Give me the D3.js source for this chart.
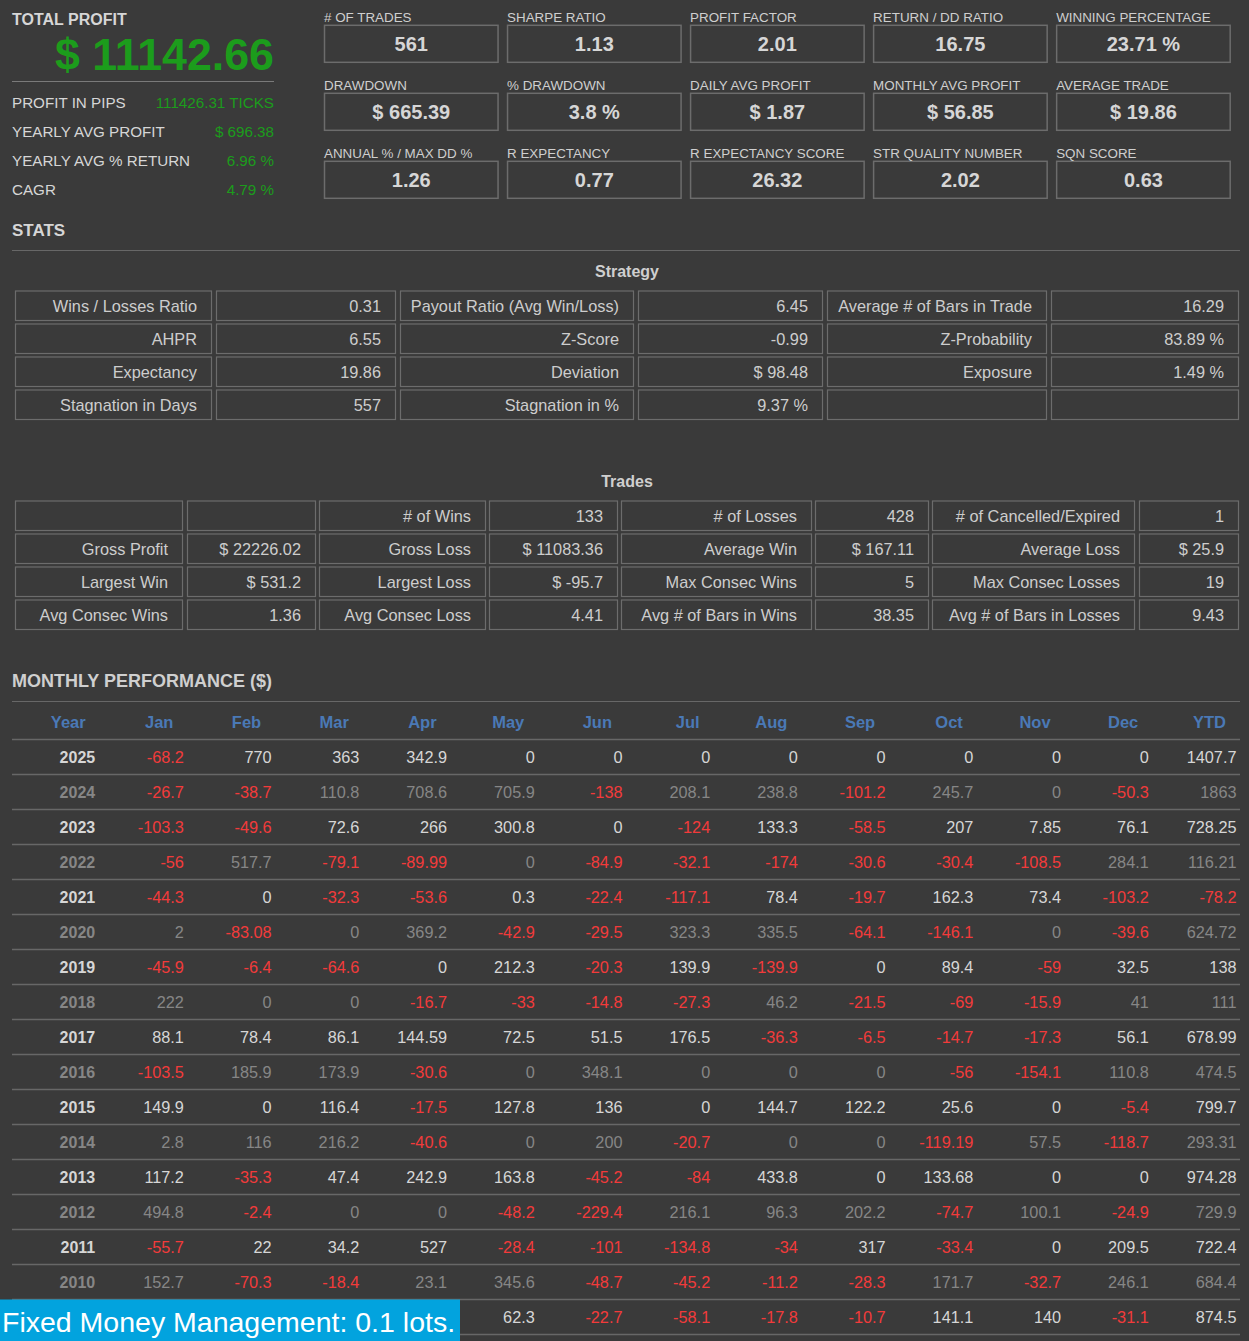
<!DOCTYPE html>
<html><head><meta charset="utf-8">
<script src="https://cdn.jsdelivr.net/npm/d3@7"></script>
<style>
html,body{margin:0;padding:0;background:#3a3a3a;overflow:hidden}
svg{display:block}
text{font-family:"Liberation Sans",Arial,sans-serif}
</style></head><body>
<svg id="c" width="1249" height="1341"></svg>
<script>
// ---------------- DATA ----------------
const totalProfitLabel = "TOTAL PROFIT";
const totalProfit = "$ 11142.66";
const summaryLabels = ["PROFIT IN PIPS", "YEARLY AVG PROFIT", "YEARLY AVG % RETURN", "CAGR"];
const summaryValues = ["111426.31 TICKS", "$ 696.38", "6.96 %", "4.79 %"];

const kpiLabels = ["# OF TRADES", "SHARPE RATIO", "PROFIT FACTOR", "RETURN / DD RATIO", "WINNING PERCENTAGE",
  "DRAWDOWN", "% DRAWDOWN", "DAILY AVG PROFIT", "MONTHLY AVG PROFIT", "AVERAGE TRADE",
  "ANNUAL % / MAX DD %", "R EXPECTANCY", "R EXPECTANCY SCORE", "STR QUALITY NUMBER", "SQN SCORE"];
const kpiValues = ["561", "1.13", "2.01", "16.75", "23.71 %",
  "$ 665.39", "3.8 %", "$ 1.87", "$ 56.85", "$ 19.86",
  "1.26", "0.77", "26.32", "2.02", "0.63"];

const strategyTitle = "Strategy";
const strategyCells = [
  ["Wins / Losses Ratio", "0.31", "Payout Ratio (Avg Win/Loss)", "6.45", "Average # of Bars in Trade", "16.29"],
  ["AHPR", "6.55", "Z-Score", "-0.99", "Z-Probability", "83.89 %"],
  ["Expectancy", "19.86", "Deviation", "$ 98.48", "Exposure", "1.49 %"],
  ["Stagnation in Days", "557", "Stagnation in %", "9.37 %", "", ""]
];

const tradesTitle = "Trades";
const tradeCells = [
  ["", "", "# of Wins", "133", "# of Losses", "428", "# of Cancelled/Expired", "1"],
  ["Gross Profit", "$ 22226.02", "Gross Loss", "$ 11083.36", "Average Win", "$ 167.11", "Average Loss", "$ 25.9"],
  ["Largest Win", "$ 531.2", "Largest Loss", "$ -95.7", "Max Consec Wins", "5", "Max Consec Losses", "19"],
  ["Avg Consec Wins", "1.36", "Avg Consec Loss", "4.41", "Avg # of Bars in Wins", "38.35", "Avg # of Bars in Losses", "9.43"]
];

const monthlyTitle = "MONTHLY PERFORMANCE ($)";
const monthHeaders = ["Year", "Jan", "Feb", "Mar", "Apr", "May", "Jun", "Jul", "Aug", "Sep", "Oct", "Nov", "Dec", "YTD"];
// last row's year and Jan–Apr are covered by the banner in the reference (unreadable -> null)
const years = [2025, 2024, 2023, 2022, 2021, 2020, 2019, 2018, 2017, 2016, 2015, 2014, 2013, 2012, 2011, 2010, null];
const monthly = [
  ["-68.2", "770", "363", "342.9", "0", "0", "0", "0", "0", "0", "0", "0", "1407.7"],
  ["-26.7", "-38.7", "110.8", "708.6", "705.9", "-138", "208.1", "238.8", "-101.2", "245.7", "0", "-50.3", "1863"],
  ["-103.3", "-49.6", "72.6", "266", "300.8", "0", "-124", "133.3", "-58.5", "207", "7.85", "76.1", "728.25"],
  ["-56", "517.7", "-79.1", "-89.99", "0", "-84.9", "-32.1", "-174", "-30.6", "-30.4", "-108.5", "284.1", "116.21"],
  ["-44.3", "0", "-32.3", "-53.6", "0.3", "-22.4", "-117.1", "78.4", "-19.7", "162.3", "73.4", "-103.2", "-78.2"],
  ["2", "-83.08", "0", "369.2", "-42.9", "-29.5", "323.3", "335.5", "-64.1", "-146.1", "0", "-39.6", "624.72"],
  ["-45.9", "-6.4", "-64.6", "0", "212.3", "-20.3", "139.9", "-139.9", "0", "89.4", "-59", "32.5", "138"],
  ["222", "0", "0", "-16.7", "-33", "-14.8", "-27.3", "46.2", "-21.5", "-69", "-15.9", "41", "111"],
  ["88.1", "78.4", "86.1", "144.59", "72.5", "51.5", "176.5", "-36.3", "-6.5", "-14.7", "-17.3", "56.1", "678.99"],
  ["-103.5", "185.9", "173.9", "-30.6", "0", "348.1", "0", "0", "0", "-56", "-154.1", "110.8", "474.5"],
  ["149.9", "0", "116.4", "-17.5", "127.8", "136", "0", "144.7", "122.2", "25.6", "0", "-5.4", "799.7"],
  ["2.8", "116", "216.2", "-40.6", "0", "200", "-20.7", "0", "0", "-119.19", "57.5", "-118.7", "293.31"],
  ["117.2", "-35.3", "47.4", "242.9", "163.8", "-45.2", "-84", "433.8", "0", "133.68", "0", "0", "974.28"],
  ["494.8", "-2.4", "0", "0", "-48.2", "-229.4", "216.1", "96.3", "202.2", "-74.7", "100.1", "-24.9", "729.9"],
  ["-55.7", "22", "34.2", "527", "-28.4", "-101", "-134.8", "-34", "317", "-33.4", "0", "209.5", "722.4"],
  ["152.7", "-70.3", "-18.4", "23.1", "345.6", "-48.7", "-45.2", "-11.2", "-28.3", "171.7", "-32.7", "246.1", "684.4"],
  [null, null, null, null, "62.3", "-22.7", "-58.1", "-17.8", "-10.7", "141.1", "140", "-31.1", "874.5"]
];
const footerNote = "Fixed Money Management: 0.1 lots.";

// ---------------- LAYOUT / STYLE ----------------
const BG = "#3a3a3a", LIGHT = "#d6d6d6", DIM = "#868686", RED = "#f23a3a",
      GREEN = "#1c9c1c", BLUE = "#4a79b6", BORDER = "#6c6c6c", RULE = "#676767";

const svg = d3.select("#c");
svg.append("rect").attr("width", 1249).attr("height", 1341).attr("fill", BG);

// ---- Top-left summary ----
const tl = svg.append("g");
tl.append("text").attr("x", 12).attr("y", 25).text(totalProfitLabel)
  .attr("fill", LIGHT).attr("font-size", 16).attr("font-weight", "bold");
tl.append("text").attr("x", 274).attr("y", 70).text(totalProfit)
  .attr("fill", GREEN).attr("font-size", 45).attr("font-weight", "bold")
  .attr("text-anchor", "end").attr("textLength", 219).attr("lengthAdjust", "spacingAndGlyphs");
tl.append("line").attr("x1", 12).attr("x2", 274).attr("y1", 81.5).attr("y2", 81.5)
  .attr("stroke", "#7a7a7a").attr("stroke-width", 1);

const ySum = d3.scalePoint().domain(d3.range(summaryLabels.length)).range([102, 189]);
tl.selectAll("text.sl").data(summaryLabels).join("text").attr("class", "sl")
  .attr("x", 12).attr("y", (d, i) => ySum(i) + 5.5).text(d => d)
  .attr("fill", LIGHT).attr("font-size", 15.2);
tl.selectAll("text.sv").data(summaryValues).join("text").attr("class", "sv")
  .attr("x", 274).attr("y", (d, i) => ySum(i) + 5.5).text(d => d)
  .attr("fill", GREEN).attr("font-size", 15.2).attr("text-anchor", "end");

// ---- KPI boxes ----
const kpiCol = d3.scaleBand().domain(d3.range(5)).range([324, 1230.7]).paddingInner(0.0464);
const kpiRow = d3.scaleLinear().domain([0, 1]).range([25.3, 93.3]);
const kpi = svg.append("g").selectAll("g").data(kpiLabels.map((l, i) => ({l, v: kpiValues[i], c: i % 5, r: Math.floor(i / 5)})))
  .join("g").attr("transform", d => `translate(${kpiCol(d.c)},${kpiRow(d.r)})`);
kpi.append("rect").attr("x", 0.5).attr("y", 0).attr("width", kpiCol.bandwidth() - 1).attr("height", 37)
  .attr("fill", "none").attr("stroke", BORDER).attr("stroke-width", 1.5);
kpi.append("text").attr("x", 0).attr("y", -3.8).text(d => d.l)
  .attr("fill", "#cfcfcf").attr("font-size", 13.4);
kpi.append("text").attr("x", kpiCol.bandwidth() / 2).attr("y", 25.8).text(d => d.v)
  .attr("fill", LIGHT).attr("font-size", 20).attr("font-weight", "bold").attr("text-anchor", "middle");

// ---- STATS header ----
svg.append("text").attr("x", 12).attr("y", 236).text("STATS")
  .attr("fill", LIGHT).attr("font-size", 17).attr("font-weight", "bold");
svg.append("line").attr("x1", 12).attr("x2", 1240).attr("y1", 250.5).attr("y2", 250.5)
  .attr("stroke", RULE);

// ---- generic bordered table ----
function cellTable(g, cells, edges, top) {
  const yRow = d3.scaleLinear().domain([0, 1]).range([top, top + 33]);
  cells.forEach((row, r) => {
    row.forEach((txt, c) => {
      const x0 = edges[c][0], x1 = edges[c][1];
      g.append("rect").attr("x", x0 + 0.5).attr("y", yRow(r) + 0.5)
        .attr("width", x1 - x0 - 1).attr("height", 29.5)
        .attr("fill", "none").attr("stroke", BORDER).attr("stroke-width", 1.2);
      if (txt) g.append("text").attr("x", x1 - 15).attr("y", yRow(r) + 21.3).text(txt)
        .attr("fill", "#cdcdcd").attr("font-size", 17).attr("text-anchor", "end")
        .attr("transform", `translate(${x1 - 15},0) scale(0.96,1) translate(${-(x1 - 15)},0)`);
    });
  });
}

svg.append("text").attr("x", 627).attr("y", 277).text(strategyTitle)
  .attr("fill", "#cfcfcf").attr("font-size", 16).attr("font-weight", "bold").attr("text-anchor", "middle");
const stratEdges = [[15, 212], [216, 396], [400, 634], [638, 823], [827, 1047], [1051, 1239]];
cellTable(svg.append("g"), strategyCells, stratEdges, 290.5);

svg.append("text").attr("x", 627).attr("y", 487).text(tradesTitle)
  .attr("fill", "#cfcfcf").attr("font-size", 16).attr("font-weight", "bold").attr("text-anchor", "middle");
const tradeEdges = [[15, 183], [187, 316], [319, 486], [489, 618], [621, 812], [815, 929], [932, 1135], [1139, 1239]];
cellTable(svg.append("g"), tradeCells, tradeEdges, 500.5);

// ---- Monthly performance ----
svg.append("text").attr("x", 12).attr("y", 686.5).text(monthlyTitle)
  .attr("fill", "#cfcfcf").attr("font-size", 18).attr("font-weight", "bold");
svg.append("line").attr("x1", 12).attr("x2", 1240).attr("y1", 701.5).attr("y2", 701.5).attr("stroke", RULE);

const xCol = d3.scaleLinear().domain([0, monthHeaders.length]).range([12, 1240]);
const yRowM = d3.scaleLinear().domain([0, 1]).range([739, 774]);

svg.append("g").selectAll("text").data(monthHeaders).join("text")
  .attr("x", (d, i) => xCol(i + 1) - 14).attr("y", 727.5).text(d => d)
  .attr("fill", BLUE).attr("font-size", 16.5).attr("font-weight", "bold").attr("text-anchor", "end");

const rowsG = svg.append("g");
rowsG.selectAll("line").data(d3.range(years.length + 1)).join("line")
  .attr("x1", 12).attr("x2", 1240).attr("y1", d => yRowM(d) + 0.5).attr("y2", d => yRowM(d) + 0.5)
  .attr("stroke", RULE).attr("stroke-width", 1.3);

years.forEach((yr, r) => {
  const base = r % 2 === 0 ? LIGHT : DIM;
  const cy = yRowM(r) + 17.5;
  if (yr !== null) rowsG.append("text").attr("x", xCol(1) - 4.5).attr("y", cy + 6).text(yr)
    .attr("fill", base).attr("font-size", 16).attr("font-weight", "bold").attr("text-anchor", "end");
  const vals = monthly[r].map((v, i) => ({v, i})).filter(d => d.v !== null);
  rowsG.selectAll(null).data(vals).join("text")
    .attr("x", d => xCol(d.i + 2) - 3.5).attr("y", cy + 6).text(d => d.v)
    .attr("fill", d => parseFloat(d.v) < 0 ? RED : base)
    .attr("font-size", 16.3).attr("text-anchor", "end");
});

// ---- footer banner ----
svg.append("rect").attr("x", 0).attr("y", 1299.5).attr("width", 460).attr("height", 42).attr("fill", "#02a3de");
svg.append("text").attr("x", 2).attr("y", 1332).text(footerNote)
  .attr("fill", "#ffffff").attr("font-size", 28.5);
</script>
</body></html>
